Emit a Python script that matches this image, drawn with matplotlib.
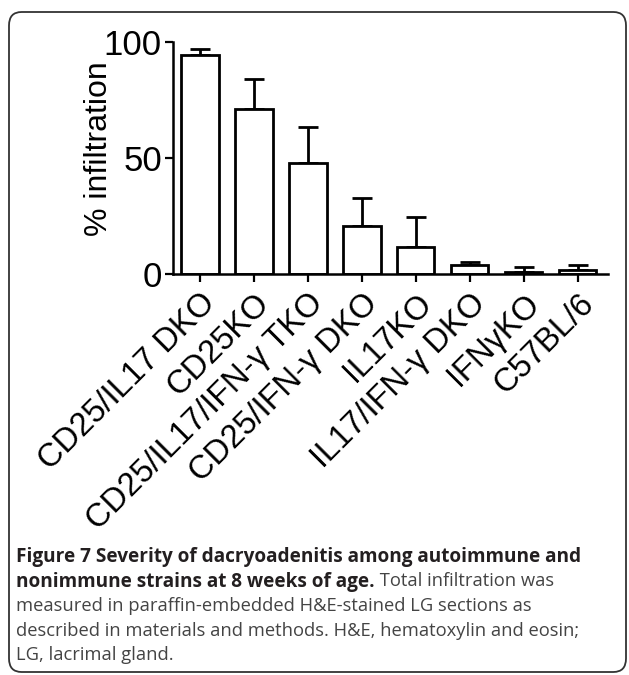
import matplotlib
matplotlib.use('Agg')
import matplotlib.pyplot as plt
from matplotlib.patches import FancyBboxPatch
import numpy as np

#%% data
strains = ['CD25/IL17 DKO', 'CD25KO', 'CD25/IL17/IFN-γ TKO', 'CD25/IFN-γ DKO',
           'IL17KO', 'IL17/IFN-γ DKO', 'IFNγKO', 'C57BL/6']
infiltration = [94.3, 71.0, 47.8, 20.7, 11.5, 3.9, 1.0, 1.7]
sem = [2.8, 13.2, 15.5, 12.0, 12.9, 1.4, 1.9, 2.2]
yticks = [0, 50, 100]

caption_bold = ['Figure 7 Severity of dacryoadenitis among autoimmune and',
                'nonimmune strains at 8 weeks of age.']
caption_rest = [' Total infiltration was',
                'measured in paraffin-embedded H&E-stained LG sections as',
                'described in materials and methods. H&E, hematoxylin and eosin;',
                'LG, lacrimal gland.']

#%% figure
W, H = 629, 675
fig = plt.figure(figsize=(W/100, H/100), dpi=100)
chart_font = ['Liberation Sans', 'DejaVu Sans']

# rounded frame around the whole panel
frame = FancyBboxPatch((9/W, 3/H), 617/W, 660/H, boxstyle='round,pad=0,rounding_size=0.02',
                       transform=fig.transFigure, fill=False, ec='#333333', lw=1.3)
fig.patches.append(frame)

ax = fig.add_axes([173/W, 1-274/H, 435/W, 232/H])
x = np.arange(len(strains))
ax.bar(x, infiltration, width=0.69, color='white', edgecolor='black', linewidth=2.0, zorder=2)
ax.errorbar(x, infiltration, yerr=[np.zeros(len(sem)), sem], fmt='none', ecolor='black',
            elinewidth=2.0, capsize=7, capthick=2.0, zorder=1)

ax.set_xlim(-0.5, 7.56)
ax.set_ylim(0, 100)
ax.set_yticks(yticks)
ax.set_xticks(x)
ax.set_xticklabels(strains, rotation=45, ha='right', va='top', rotation_mode='anchor',
                   fontsize=23.5, family=chart_font)
for lab in ax.get_yticklabels():
    lab.set_fontsize(25)
    lab.set_family(chart_font)
ax.tick_params(axis='both', width=1.6, length=6, direction='out')
ax.tick_params(axis='y', pad=2)
ax.tick_params(axis='x', pad=4)
for s in ['top', 'right']:
    ax.spines[s].set_visible(False)
for s in ['left', 'bottom']:
    ax.spines[s].set_linewidth(1.8)
ax.set_ylabel('% infiltration', fontsize=23, family=chart_font)
ax.yaxis.set_label_coords(-0.135, 0.54)

#%% caption
cap_font = 'Open Sans'
bold_size = 13.7
cap_size = 13.2
y0 = 1 - 562/H
dy = 24.5/H
r = fig.canvas.get_renderer()
fig.text(16/W, y0, caption_bold[0], fontsize=bold_size, weight='bold', family=cap_font,
         color='#231f20')
t2 = fig.text(16/W, y0 - dy, caption_bold[1], fontsize=bold_size, weight='bold', family=cap_font,
              color='#231f20')
bb = t2.get_window_extent(renderer=r)
fig.text(bb.x1/W, y0 - dy, caption_rest[0], fontsize=cap_size, family=cap_font, color='#444444')
for i, line in enumerate(caption_rest[1:]):
    fig.text(16/W, y0 - dy*(i+2), line, fontsize=cap_size, family=cap_font, color='#444444')

fig.savefig('out.png', dpi=100)
